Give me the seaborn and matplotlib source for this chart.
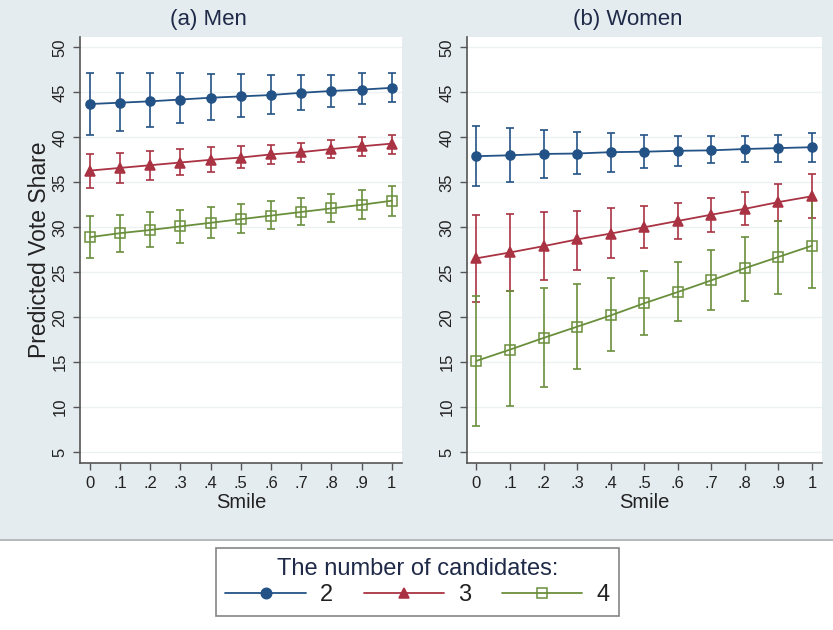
import numpy as np
import pandas as pd
import matplotlib
matplotlib.use("Agg")
import matplotlib.pyplot as plt
from matplotlib.patches import Rectangle
from matplotlib.lines import Line2D
import seaborn as sns

# smile levels on the x axis
smile = [0, .1, .2, .3, .4, .5, .6, .7, .8, .9, 1]
smile_labels = ["0", ".1", ".2", ".3", ".4", ".5", ".6", ".7", ".8", ".9", "1"]
y_ticks = [5, 10, 15, 20, 25, 30, 35, 40, 45, 50]
groups = ["2", "3", "4"]

# (a) Men: predicted vote share with 95% CI
men_2 = [43.7, 43.85, 44.0, 44.2, 44.4, 44.55, 44.7, 44.95, 45.15, 45.3, 45.5]
men_2_lo = [40.24, 40.7, 41.1, 41.55, 41.9, 42.3, 42.6, 43.0, 43.4, 43.65, 43.95]
men_2_hi = [47.2, 47.2, 47.2, 47.1, 47.0, 47.0, 46.95, 46.95, 46.95, 47.1, 47.2]

men_3 = [36.3, 36.6, 36.9, 37.2, 37.5, 37.75, 38.1, 38.35, 38.7, 39.0, 39.3]
men_3_lo = [34.4, 34.9, 35.3, 35.8, 36.1, 36.6, 37.0, 37.3, 37.7, 37.9, 38.2]
men_3_hi = [38.2, 38.3, 38.5, 38.7, 38.9, 39.0, 39.2, 39.4, 39.65, 40.0, 40.3]

men_4 = [28.9, 29.35, 29.7, 30.1, 30.5, 30.9, 31.3, 31.7, 32.1, 32.5, 32.95]
men_4_lo = [26.6, 27.2, 27.8, 28.3, 28.8, 29.35, 29.8, 30.2, 30.6, 30.95, 31.3]
men_4_hi = [31.2, 31.4, 31.7, 31.95, 32.2, 32.6, 32.9, 33.3, 33.7, 34.1, 34.6]

# (b) Women
women_2 = [37.9, 38.0, 38.15, 38.2, 38.35, 38.4, 38.5, 38.55, 38.7, 38.8, 38.9]
women_2_lo = [34.6, 35.0, 35.45, 35.9, 36.2, 36.55, 36.85, 37.1, 37.25, 37.3, 37.3]
women_2_hi = [41.3, 41.0, 40.85, 40.6, 40.45, 40.3, 40.2, 40.15, 40.15, 40.25, 40.5]

women_3 = [26.55, 27.2, 27.9, 28.65, 29.3, 30.0, 30.7, 31.4, 32.05, 32.8, 33.45]
women_3_lo = [21.7, 22.9, 24.1, 25.3, 26.55, 27.65, 28.65, 29.45, 30.2, 30.7, 31.0]
women_3_hi = [31.4, 31.5, 31.75, 31.85, 32.1, 32.35, 32.75, 33.3, 33.95, 34.85, 35.9]

women_4 = [15.15, 16.4, 17.7, 18.95, 20.2, 21.55, 22.8, 24.1, 25.45, 26.7, 27.95]
women_4_lo = [7.95, 10.1, 12.2, 14.2, 16.2, 18.05, 19.55, 20.85, 21.8, 22.55, 23.2]
women_4_hi = [22.4, 22.9, 23.2, 23.7, 24.4, 25.1, 26.15, 27.45, 28.9, 30.7, 33.0]

colors = {"2": "#235386", "3": "#a93343", "4": "#6a8f3c"}
markers = {"2": "o", "3": "^", "4": "s"}
text_dark = "#1f2a48"
bg = "#e5ecf0"


def long_frame(series):
    rows = []
    for g, (mid, lo, hi) in zip(groups, series):
        for x, m, l, h in zip(smile, mid, lo, hi):
            rows.append({"smile": x, "pred": m, "lo": l, "hi": h, "n": g})
    return pd.DataFrame(rows)


men = long_frame([(men_2, men_2_lo, men_2_hi),
                  (men_3, men_3_lo, men_3_hi),
                  (men_4, men_4_lo, men_4_hi)])
women = long_frame([(women_2, women_2_lo, women_2_hi),
                    (women_3, women_3_lo, women_3_hi),
                    (women_4, women_4_lo, women_4_hi)])

sns.set_theme(style="white")
plt.rcParams["font.family"] = ["Liberation Sans", "DejaVu Sans"]

fig = plt.figure(figsize=(8.33, 6.3), dpi=100, facecolor="white")
# light graph-region background behind both panels
fig.patches.append(Rectangle((0, 1 - 539 / 630), 1, 539 / 630, transform=fig.transFigure,
                             facecolor=bg, edgecolor="none", zorder=-10))
fig.lines.append(Line2D([0, 1], [1 - 540 / 630] * 2, transform=fig.transFigure,
                        color="#a9adb0", lw=1.2))

ax1 = fig.add_axes([80 / 833, 1 - 463 / 630, 322 / 833, 426 / 630])
ax2 = fig.add_axes([467 / 833, 1 - 463 / 630, 355 / 833, 426 / 630])


def draw_panel(ax, df, xlim):
    for g in groups:
        sub = df[df["n"] == g]
        ax.errorbar(sub["smile"], sub["pred"],
                    yerr=[sub["pred"] - sub["lo"], sub["hi"] - sub["pred"]],
                    fmt="none", ecolor=colors[g], elinewidth=1.2, capsize=2.6,
                    capthick=1.2, zorder=2)
    sns.lineplot(data=df, x="smile", y="pred", hue="n", style="n",
                 palette=colors, markers=markers, dashes=False, ax=ax,
                 linewidth=1.3, markersize=6.5, markeredgewidth=1.1,
                 legend=False, zorder=3)
    # hollow squares for 4 candidates
    for line in ax.lines:
        if line.get_marker() == "s":
            line.set_markerfacecolor("none")
            line.set_markeredgecolor(colors["4"])
        elif line.get_marker() in ("o", "^"):
            line.set_markeredgecolor(line.get_color())
    ax.set_facecolor("white")
    ax.set_xlim(*xlim)
    ax.set_ylim(3.8, 51.15)
    ax.set_xticks(smile)
    ax.set_xticklabels(smile_labels)
    ax.set_yticks(y_ticks)
    ax.set_yticklabels([str(v) for v in y_ticks], rotation=90, va="center")
    ax.tick_params(axis="both", direction="out", length=5, width=1,
                   color="#555555", labelsize=12, labelcolor="#222222", pad=4,
                   bottom=True, left=True)
    ax.tick_params(axis="y", pad=4)
    ax.grid(axis="y", color="#eef1f3", linewidth=1)
    ax.grid(axis="x", visible=False)
    for side in ["top", "right"]:
        ax.spines[side].set_visible(False)
    for side in ["left", "bottom"]:
        ax.spines[side].set_color("#555555")
        ax.spines[side].set_linewidth(1.2)
    ax.set_xlabel("Smile", fontsize=14.5, color="#222222", labelpad=2)


draw_panel(ax1, men, (-0.033, 1.034))
draw_panel(ax2, women, (-0.028, 1.03))
ax1.set_ylabel("Predicted Vote Share", fontsize=16.5, color="#222222", labelpad=1)
ax2.set_ylabel("")

# panel titles are centred over each whole graph region
fig.text(208 / 833, 1 - 20 / 630, "(a) Men", ha="center", va="center",
         fontsize=16, color=text_dark)
fig.text(628 / 833, 1 - 20 / 630, "(b) Women", ha="center", va="center",
         fontsize=16, color=text_dark)

handles = []
for g in groups:
    face = "none" if g == "4" else colors[g]
    handles.append(Line2D([], [], color=colors[g], marker=markers[g], markersize=7.5,
                          markerfacecolor=face, markeredgecolor=colors[g],
                          markeredgewidth=1.1, linewidth=1.3))
leg = fig.legend(handles, groups, title="The number of candidates:", ncol=3,
                 loc="center", bbox_to_anchor=(417.5 / 833, 1 - 582 / 630),
                 fontsize=17, title_fontsize=17, frameon=True, fancybox=False,
                 handlelength=3.4, columnspacing=1.3, handletextpad=0.6,
                 borderpad=0.4, labelspacing=0.2)
leg.get_frame().set_edgecolor("#666666")
leg.get_frame().set_linewidth(1.2)
leg.get_title().set_color(text_dark)
for t in leg.get_texts():
    t.set_color("#222222")

fig.savefig("out.png", dpi=100, facecolor=fig.get_facecolor())
